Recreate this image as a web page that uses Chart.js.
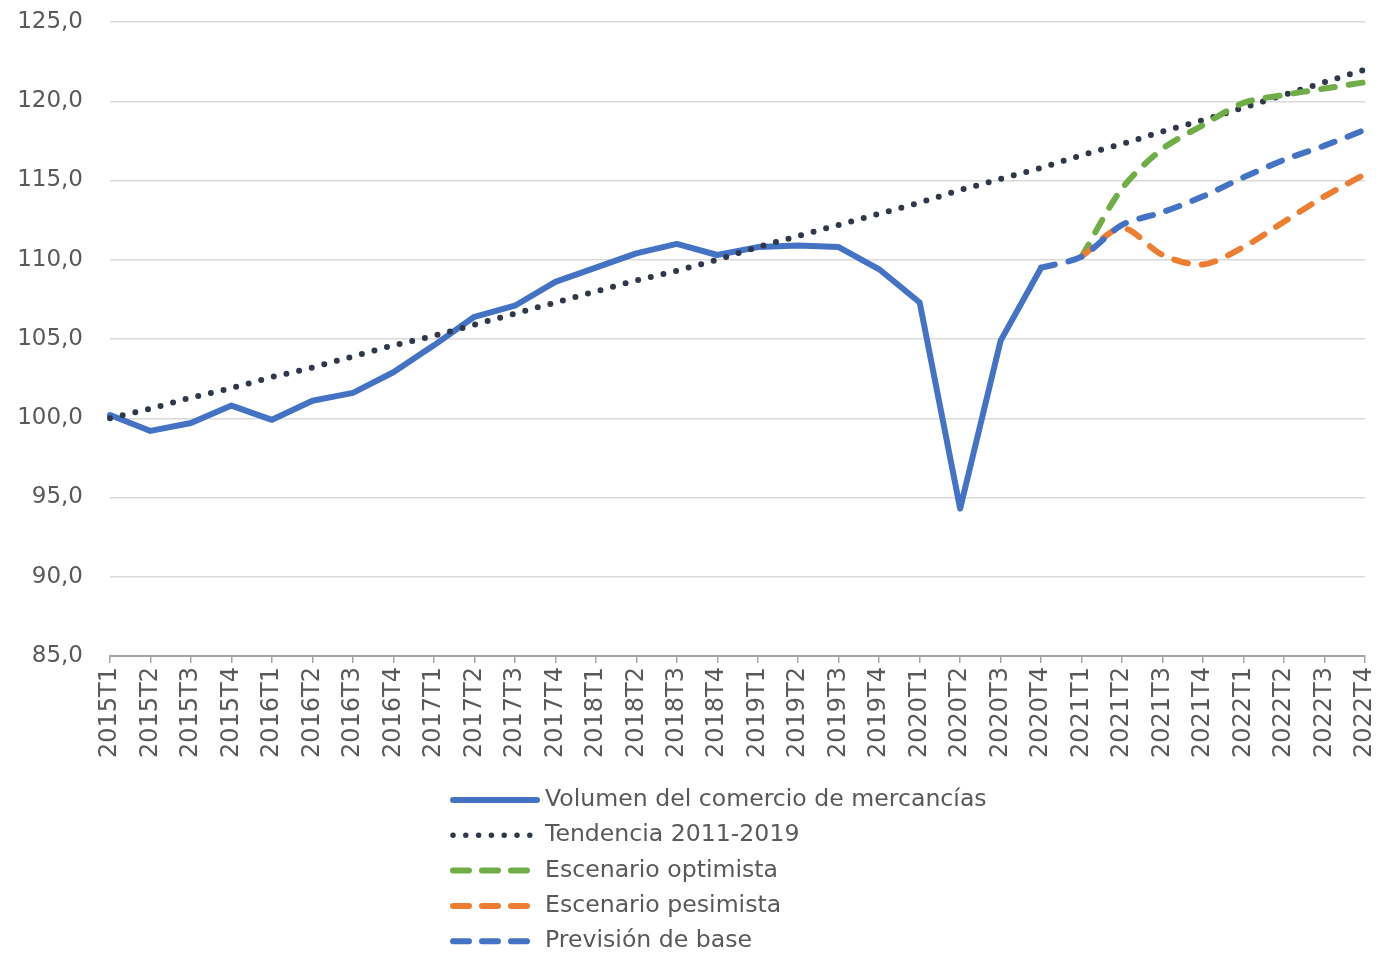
<!DOCTYPE html>
<html>
<head>
<meta charset="utf-8">
<script src="https://cdn.jsdelivr.net/npm/chart.js@4"></script>
<style>
html,body{margin:0;padding:0;background:#ffffff;}
#wrap{width:1382px;height:958px;position:relative;}
</style>
</head>
<body>
<div id="wrap"><canvas id="c" width="1382" height="958"></canvas></div>
<script>
const categories = [
  '2015T1','2015T2','2015T3','2015T4','2016T1','2016T2','2016T3','2016T4',
  '2017T1','2017T2','2017T3','2017T4','2018T1','2018T2','2018T3','2018T4',
  '2019T1','2019T2','2019T3','2019T4','2020T1','2020T2','2020T3','2020T4',
  '2021T1','2021T2','2021T3','2021T4','2022T1','2022T2','2022T3','2022T4'
];
const volumen = [100.2, 99.2, 99.7, 100.8, 99.9, 101.1, 101.6, 102.9,
  104.6, 106.4, 107.1, 108.6, 109.5, 110.4, 111.0, 110.3,
  110.8, 110.9, 110.8, 109.4, 107.3, 94.3, 104.9, 109.5,
  null, null, null, null, null, null, null, null];
const tendencia = [100.0, 100.6, 101.3, 101.9, 102.6, 103.2, 103.9, 104.6,
  105.2, 105.9, 106.6, 107.3, 108.0, 108.7, 109.3, 110.0,
  110.8, 111.5, 112.2, 112.9, 113.6, 114.4, 115.1, 115.8,
  116.6, 117.3, 118.1, 118.8, 119.6, 120.4, 121.2, 122.0];
const optimista = [null, null, null, null, null, null, null, null,
  null, null, null, null, null, null, null, null,
  null, null, null, null, null, null, null, null,
  110.2, 114.5, 117.0, 118.5, 119.9, 120.4, 120.8, 121.2];
const pesimista = [null, null, null, null, null, null, null, null,
  null, null, null, null, null, null, null, null,
  null, null, null, null, null, null, null, null,
  110.2, 112.0, 110.3, 109.7, 110.8, 112.4, 114.0, 115.4];
const base = [null, null, null, null, null, null, null, null,
  null, null, null, null, null, null, null, null,
  null, null, null, null, null, null, null, 109.5,
  110.2, 112.2, 113.0, 114.0, 115.2, 116.3, 117.2, 118.2];
const seriesNames = ['Volumen del comercio de mercancías', 'Tendencia 2011-2019',
  'Escenario optimista', 'Escenario pesimista', 'Previsión de base'];
const yTickLabels = ['85,0','90,0','95,0','100,0','105,0','110,0','115,0','120,0','125,0'];

const FONT = 'DejaVu Sans';
const TXT = '#595959';

const stackLegend = {
  id: 'stackLegend',
  afterDraw(chart) {
    const ctx = chart.ctx;
    const x0 = 450, y0 = 800, dy = 35.3, sampleW = 84, textX = 545;
    ctx.save();
    chart.data.datasets.forEach((ds, i) => {
      const y = y0 + i * dy;
      ctx.beginPath();
      ctx.strokeStyle = ds.borderColor;
      ctx.lineCap = 'round';
      if (ds.legendKind === 'solid') {
        ctx.lineWidth = 6;
        ctx.setLineDash([]);
        ctx.moveTo(x0 + 3, y); ctx.lineTo(x0 + 3 + sampleW, y);
      } else if (ds.legendKind === 'dot') {
        ctx.lineWidth = 5.5;
        ctx.setLineDash([0, 12.8]);
        ctx.moveTo(x0 + 3, y); ctx.lineTo(x0 + 82, y);
      } else {
        ctx.lineWidth = 6;
        ctx.setLineDash([16, 13]);
        ctx.moveTo(x0 + 3, y); ctx.lineTo(x0 + 77, y);
      }
      ctx.stroke();
      ctx.setLineDash([]);
      ctx.fillStyle = TXT;
      ctx.font = '23.6px "' + FONT + '"';
      ctx.textBaseline = 'middle';
      ctx.textAlign = 'left';
      ctx.fillText(ds.label, textX, y);
    });
    ctx.restore();
  }
};

new Chart(document.getElementById('c'), {
  type: 'line',
  data: {
    labels: categories,
    datasets: [
      { label: seriesNames[0], data: volumen, borderColor: '#4472C4', borderWidth: 6,
        pointRadius: 0, tension: 0, borderJoinStyle: 'round', borderCapStyle: 'round',
        order: 5, legendKind: 'solid' },
      { label: seriesNames[1], data: tendencia, borderColor: '#2f3848', borderWidth: 6,
        pointRadius: 0, tension: 0, borderDash: [0, 13], borderCapStyle: 'round',
        order: 4, legendKind: 'dot' },
      { label: seriesNames[2], data: optimista, borderColor: '#70AD47', borderWidth: 6,
        pointRadius: 0, tension: 0.3, borderDash: [14, 14], borderCapStyle: 'round',
        order: 3, legendKind: 'dash' },
      { label: seriesNames[3], data: pesimista, borderColor: '#ED7D31', borderWidth: 6,
        pointRadius: 0, tension: 0.3, borderDash: [14, 14], borderCapStyle: 'round',
        order: 2, legendKind: 'dash' },
      { label: seriesNames[4], data: base, borderColor: '#4472C4', borderWidth: 6,
        pointRadius: 0, tension: 0.3, borderDash: [14, 14], borderCapStyle: 'round',
        order: 1, legendKind: 'dash' }
    ]
  },
  options: {
    responsive: false,
    animation: false,
    layout: { padding: { left: 0, right: 17, top: 22, bottom: 182 } },
    plugins: { legend: { display: false }, tooltip: { enabled: false } },
    scales: {
      x: {
        type: 'category',
        offset: false,
        grid: { drawOnChartArea: false, drawTicks: true, tickLength: 7, color: '#a6a6a6', lineWidth: 1.5 },
        border: { display: true, color: '#a6a6a6', width: 2 },
        ticks: { autoSkip: false, maxRotation: 90, minRotation: 90, padding: 4,
          color: TXT, font: { family: FONT, size: 24 } },
        afterFit(scale) { scale.height = 120; scale.paddingLeft = 0; scale.paddingRight = 0; }
      },
      y: {
        min: 85, max: 125,
        ticks: { stepSize: 5, padding: 27, color: TXT, font: { family: FONT, size: 23 },
          callback: (v, i) => yTickLabels[i] },
        grid: { color: '#d9d9d9', lineWidth: 1.5, drawTicks: false },
        border: { display: false },
        afterFit(scale) { scale.width = 110; scale.paddingTop = 0; scale.paddingBottom = 0; }
      }
    }
  },
  plugins: [stackLegend]
});
</script>
</body>
</html>
